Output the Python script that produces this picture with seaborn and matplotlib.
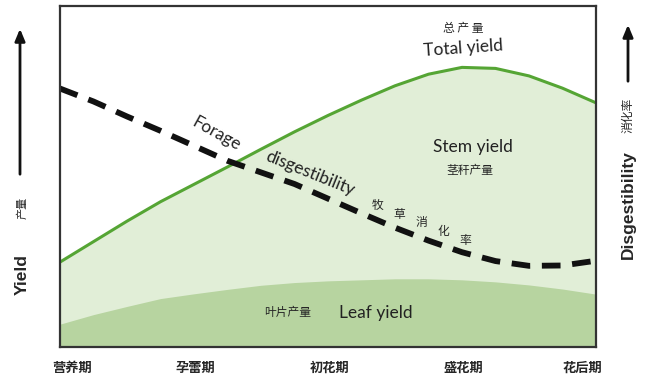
import numpy as np
import pandas as pd
import matplotlib
matplotlib.use('Agg')
import matplotlib.pyplot as plt
import seaborn as sns

# ===== data =====
stages = ['营养期', '孕蕾期', '初花期', '盛花期', '花后期']
progress = [0, 0.25, 0.5, 0.75, 1, 1.25, 1.5, 1.75, 2, 2.25, 2.5, 2.75, 3, 3.25, 3.5, 3.75, 4]
total_yield = [24.9, 30.9, 36.9, 42.6, 47.7, 52.8, 58.0, 63.1, 67.9, 72.4, 76.6, 80.0, 82.0, 81.7, 79.5, 75.9, 71.6]
leaf_yield = [6.7, 9.5, 11.9, 14.2, 15.6, 16.9, 18.1, 18.9, 19.4, 19.7, 20.0, 20.0, 19.7, 19.1, 18.2, 17.0, 15.5]
digestibility = [75.8, 72.0, 67.6, 63.4, 59.0, 54.6, 51.2, 47.8, 43.5, 39.2, 35.0, 31.2, 27.8, 25.2, 23.8, 23.9, 25.3]
digest_cn = ['牧', '草', '消', '化', '率']

df = pd.DataFrame({'progress': progress, 'total': total_yield,
                   'leaf': leaf_yield, 'digest': digestibility})

sns.set_theme(style='white')
plt.rcParams['font.family'] = ['Lato', 'Noto Sans CJK SC', 'DejaVu Sans']

W, H = 650, 388
fig = plt.figure(figsize=(W / 100, H / 100), dpi=100)
ax = fig.add_axes([60 / W, 41 / H, 536 / W, 341 / H])

stem_col = '#e1eed7'
leaf_col = '#b7d4a0'
line_col = '#55a534'

ax.fill_between(df['progress'], 0, df['total'], color=stem_col, lw=0)
ax.fill_between(df['progress'], 0, df['leaf'], color=leaf_col, lw=0)
sns.lineplot(data=df, x='progress', y='total', color=line_col, lw=2.2, ax=ax)
sns.lineplot(data=df, x='progress', y='digest', color='#111111', lw=4.2,
             dashes=False, ax=ax)
ax.lines[-2].set_solid_joinstyle('round')
ax.lines[-1].set_linestyle((0, (3.2, 2.0)))
ax.lines[-1].set_dash_joinstyle('round')

ax.set_xlim(0, 4)
ax.set_ylim(0, 100)
ax.set_xlabel('')
ax.set_ylabel('')
ax.set_yticks([])
ax.set_xticks([1, 2, 3])
ax.set_xticklabels([])
ax.tick_params(axis='x', direction='in', length=15, width=1.6, color='#222222', bottom=True)
for sp in ax.spines.values():
    sp.set_color('#333333')
    sp.set_linewidth(1.6)

# stage names under the axis
for i, name in enumerate(stages):
    nudge = 0.09 if i == 0 else (-0.1 if i == len(stages) - 1 else 0.01)
    ax.text(i + nudge, -6.2, name, ha='center', va='center', fontsize=9.5,
            fontweight='bold', family=['Noto Sans CJK SC'], clip_on=False)

cn = ['Noto Sans CJK SC', 'DejaVu Sans']
ax.text(3.01, 93.3, '总 产 量', ha='center', va='center', fontsize=8.5, family=cn)
ax.text(3.01, 87.6, 'Total yield', ha='center', va='center', fontsize=12.5,
        rotation=4, color='#222222')
ax.text(1.17, 62.5, 'Forage', ha='center', va='center', fontsize=12.5,
        rotation=-29, color='#222222')
ax.text(1.87, 51.0, 'disgestibility', ha='center', va='center', fontsize=12.5,
        rotation=-22, color='#222222')
for k, ch in enumerate(digest_cn):
    ax.text(2.37 + 0.163 * k, 41.6 - 2.6 * k, ch, ha='center', va='center',
            fontsize=8.5, family=cn)
ax.text(3.08, 58.7, 'Stem yield', ha='center', va='center', fontsize=12.5, color='#222222')
ax.text(3.06, 51.9, '茎秆产量', ha='center', va='center', fontsize=8.5, family=cn)
ax.text(1.70, 10.0, '叶片产量', ha='center', va='center', fontsize=8.5, family=cn)
ax.text(2.36, 10.0, 'Leaf yield', ha='center', va='center', fontsize=12.5, color='#222222')

# side labels and arrows
bold = ['Liberation Sans', 'DejaVu Sans']
fig.text(22 / W, 1 - 275 / H, 'Yield', rotation=90, ha='center', va='center',
         fontsize=12.5, fontweight='bold', family=bold)
fig.text(22 / W, 1 - 208 / H, '产量', rotation=90, ha='center', va='center',
         fontsize=8, family=cn)
fig.text(628 / W, 1 - 205 / H, 'Disgestibility', rotation=90, ha='center', va='center',
         fontsize=12.5, fontweight='bold', family=bold)
fig.text(628 / W, 1 - 115 / H, '消化率', rotation=90, ha='center', va='center',
         fontsize=8.5, family=cn)
arrow_style = '-|>,head_length=0.6,head_width=0.25'
for x0, y0, y1 in [(20, 177, 26), (628, 84, 22)]:
    fig.add_artist(matplotlib.patches.FancyArrowPatch(
        (x0 / W, 1 - y0 / H), (x0 / W, 1 - y1 / H), transform=fig.transFigure,
        arrowstyle=arrow_style, color='#111111', lw=2, mutation_scale=12))

fig.savefig('out.png', dpi=100)
